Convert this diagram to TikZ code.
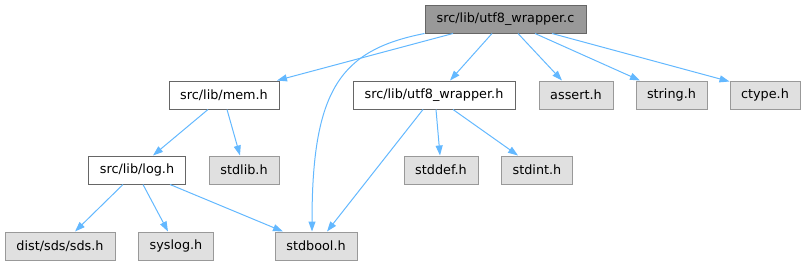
\documentclass[tikz,border=0pt]{standalone}
\usepackage{fontspec}
\setmainfont{DejaVu Sans}
\usetikzlibrary{arrows.meta}

\definecolor{edgeblue}{HTML}{63B8FF}
\definecolor{darkborder}{HTML}{666666}
\definecolor{lightborder}{HTML}{999999}
\definecolor{sysfill}{HTML}{E0E0E0}
\definecolor{rootfill}{HTML}{999999}

\tikzset{
  hdr/.style={draw=darkborder, fill=white, line width=1pt, inner sep=0pt,
    minimum height=28pt, font=\fontsize{12.8}{15}\selectfont},
  rootfile/.style={hdr, fill=rootfill},
  sysfile/.style={hdr, draw=lightborder, fill=sysfill},
  inc/.style={draw=edgeblue, line width=1pt, -{Triangle[length=10pt,width=7pt]}}
}

\begin{document}
\begin{tikzpicture}[x=1pt, y=-1pt]
\useasboundingbox (0,0) rectangle (805,265);

% top level
\node[rootfile, minimum width=161pt] (c) at (505.5,19) {src/lib/utf8\_wrapper.c};

% second row
\node[hdr, minimum width=110pt] (mem) at (224,95) {src/lib/mem.h};
\node[hdr, minimum width=162pt] (uh) at (434,95) {src/lib/utf8\_wrapper.h};
\node[sysfile, minimum width=74pt] (assert) at (576,95) {assert.h};
\node[sysfile, minimum width=71pt] (string) at (671.5,95) {string.h};
\node[sysfile, minimum width=70pt] (ctype) at (765,95) {ctype.h};

% third row
\node[hdr, minimum width=97pt] (log) at (137,170) {src/lib/log.h};
\node[sysfile, minimum width=70pt] (stdlib) at (244,170) {stdlib.h};
\node[sysfile, minimum width=74pt] (stddef) at (441,170) {stddef.h};
\node[sysfile, minimum width=71pt] (stdint) at (537,170) {stdint.h};

% bottom row
\node[sysfile, minimum width=110pt] (sds) at (60,246) {dist/sds/sds.h};
\node[sysfile, minimum width=75pt] (syslog) at (176,246) {syslog.h};
\node[sysfile, minimum width=82pt] (stdbool) at (316,246) {stdbool.h};

\draw[inc] ([xshift=-52.5pt]c.south) -- ([xshift=53pt]mem.north);
\draw[inc] (c.south west) .. controls (340,50) and (312,90) .. ([xshift=-4pt]stdbool.north);
\draw[inc] ([xshift=-13.5pt]c.south) -- ([xshift=16pt]uh.north);
\draw[inc] ([xshift=12.5pt]c.south) -- ([xshift=-14pt]assert.north);
\draw[inc] ([xshift=29.5pt]c.south) -- ([xshift=-31.5pt]string.north);
\draw[inc] ([xshift=46.5pt]c.south) -- ([yshift=-1pt]ctype.north west);

\draw[inc] ([xshift=-16pt]mem.south) -- ([xshift=16pt]log.north);
\draw[inc] ([xshift=3pt]mem.south) -- ([xshift=-4pt]stdlib.north);

\draw[inc] ([xshift=-11pt]uh.south) -- ([xshift=11pt]stdbool.north);
\draw[inc] ([xshift=2pt]uh.south) -- ([xshift=-1pt]stddef.north);
\draw[inc] ([xshift=19pt]uh.south) -- ([xshift=-19pt]stdint.north);

\draw[inc] ([xshift=-14pt]log.south) -- ([xshift=15pt]sds.north);
\draw[inc] ([xshift=6pt]log.south) -- ([xshift=-8pt]syslog.north);
\draw[inc] ([xshift=33pt]log.south) -- ([xshift=-33pt]stdbool.north);
\end{tikzpicture}
\end{document}
